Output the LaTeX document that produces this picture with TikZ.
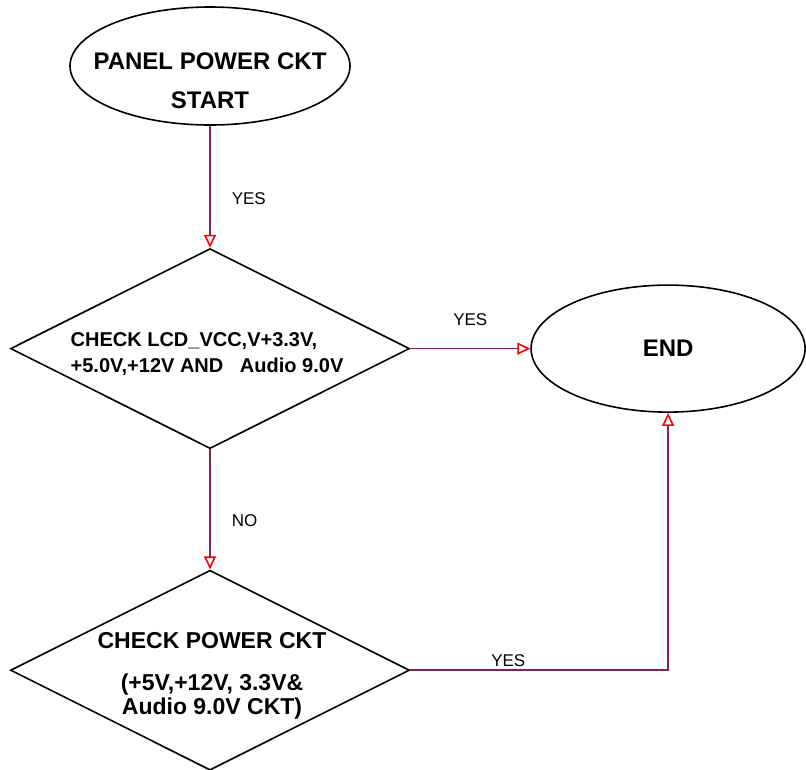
\documentclass[tikz,border=0pt]{standalone}
\usepackage{fontspec}
\setmainfont{Liberation Sans}
\usetikzlibrary{arrows.meta, positioning, shapes.geometric}
\definecolor{flowColor}{HTML}{862157}
\definecolor{tipColor}{HTML}{FF0000}

\begin{document}
\begin{tikzpicture}[
    x=1pt, y=-1pt,
    node distance=120pt,
    terminal/.style={ellipse, draw, line width=1.6pt, inner sep=0pt},
    decision/.style={diamond, draw, line width=1.6pt, inner sep=0pt, minimum width=399pt, minimum height=200pt},
    boxText/.style={align=center, inner sep=0pt},
    flow/.style={-{Triangle[open, length=13pt, width=12pt, color=tipColor]}, line width=1.6pt, draw=flowColor},
    labelStyle/.style={font=\fontsize{17}{20}\selectfont, inner sep=0pt}
]

\useasboundingbox (0,0) rectangle (806,769);

\node[terminal, minimum width=280pt, minimum height=118pt,
      label={[boxText, font=\bfseries\fontsize{24}{28}\selectfont, yshift=-15pt]center:{PANEL POWER CKT\\[11pt]START}}] (start) at (210,66) {};

\node[decision, below=122pt of start,
      label={[boxText, align=left, font=\bfseries\fontsize{20}{26}\selectfont, xshift=-3pt, yshift=-5pt]center:{CHECK LCD\_VCC,V+3.3V,\\+5.0V,+12V AND\ \ \ Audio 9.0V}}] (check1) {};

\node[terminal, right=120pt of check1, minimum width=274pt, minimum height=127pt,
      font=\bfseries\fontsize{24}{28}\selectfont] (end) {END};

\node[decision, below=120pt of check1,
      label={[boxText, font=\bfseries\fontsize{23}{24}\selectfont, xshift=2pt, yshift=-6pt]center:{CHECK POWER CKT\\[18pt](+5V,+12V, 3.3V\&\\Audio 9.0V CKT)}}] (check2) {};

\draw[flow] (start) -- (check1) node[pos=0.6, right=21pt, labelStyle] {YES};
\draw[flow] (check1) -- (end) node[midway, above=22pt, labelStyle] {YES};
\draw[flow] (check1) -- (check2) node[pos=0.59, right=21pt, labelStyle] {NO};
\draw[flow] (check2) -| (end) node[pos=0.19, above=3pt, labelStyle] {YES};

\end{tikzpicture}
\end{document}
